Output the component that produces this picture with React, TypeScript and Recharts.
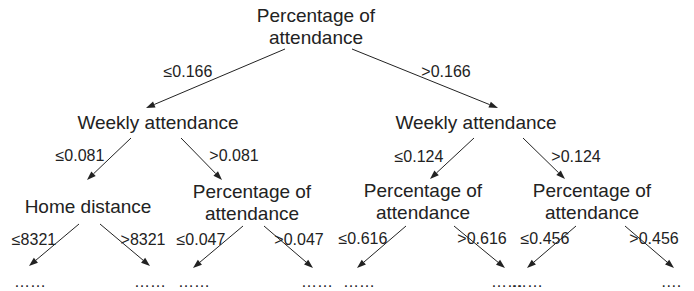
import { ReferenceLine, Scatter, ScatterChart, XAxis, YAxis } from "recharts";

const WIDTH = 694;
const HEIGHT = 291;
const INK = "#222222";

type TextPoint = { x: number; y: number; lines: string[] };
type Edge = { from: [number, number]; to: [number, number] };

// tree nodes (x = centre, y = baseline of first line)
const nodes: TextPoint[] = [
  { x: 316, y: 22, lines: ["Percentage of", "attendance"] },
  { x: 158, y: 129, lines: ["Weekly attendance"] },
  { x: 476, y: 129, lines: ["Weekly attendance"] },
  { x: 88, y: 213, lines: ["Home distance"] },
  { x: 252, y: 198, lines: ["Percentage of", "attendance"] },
  { x: 423, y: 197, lines: ["Percentage of", "attendance"] },
  { x: 592, y: 197, lines: ["Percentage of", "attendance"] },
];

// split conditions written along the branches
const splitLabels: TextPoint[] = [
  { x: 188, y: 77, lines: ["≤0.166"] },
  { x: 446, y: 77, lines: [">0.166"] },
  { x: 80, y: 161, lines: ["≤0.081"] },
  { x: 234, y: 161, lines: [">0.081"] },
  { x: 419, y: 162, lines: ["≤0.124"] },
  { x: 576, y: 162, lines: [">0.124"] },
  { x: 34, y: 245, lines: ["≤8321"] },
  { x: 143, y: 245, lines: [">8321"] },
  { x: 201, y: 245, lines: ["≤0.047"] },
  { x: 299, y: 245, lines: [">0.047"] },
  { x: 363, y: 244, lines: ["≤0.616"] },
  { x: 482, y: 244, lines: [">0.616"] },
  { x: 545, y: 244, lines: ["≤0.456"] },
  { x: 654, y: 244, lines: [">0.456"] },
];

// truncated subtrees
const leaves: TextPoint[] = [
  { x: 30, y: 287, lines: ["……"] },
  { x: 150, y: 287, lines: ["……"] },
  { x: 194, y: 287, lines: ["……"] },
  { x: 317, y: 287, lines: ["……"] },
  { x: 359, y: 287, lines: ["……"] },
  { x: 507, y: 287, lines: ["……"] },
  { x: 527, y: 287, lines: ["……"] },
  { x: 671, y: 287, lines: ["…."] },
];

const edges: Edge[] = [
  { from: [285, 49], to: [146, 108] },
  { from: [352, 49], to: [498, 108] },
  { from: [131, 138], to: [87, 180] },
  { from: [181, 138], to: [222, 180] },
  { from: [474, 138], to: [430, 179] },
  { from: [523, 138], to: [565, 179] },
  { from: [79, 224], to: [29, 266] },
  { from: [100, 224], to: [150, 266] },
  { from: [243, 226], to: [193, 268] },
  { from: [264, 226], to: [313, 268] },
  { from: [406, 226], to: [357, 268] },
  { from: [454, 226], to: [505, 268] },
  { from: [576, 226], to: [527, 268] },
  { from: [625, 226], to: [674, 268] },
];

const LINE_HEIGHT = 22;

const makeTextShape = (fontSize: number) => (props: any) => {
  const { cx, cy, payload } = props;
  if (cx == null || cy == null) return null;
  return (
    <text
      x={cx}
      y={cy}
      textAnchor="middle"
      fontFamily="'Liberation Sans', Arial, sans-serif"
      fontSize={fontSize}
      fill={INK}
    >
      {payload.lines.map((line: string, i: number) => (
        <tspan key={i} x={cx} y={cy + i * LINE_HEIGHT}>
          {line}
        </tspan>
      ))}
    </text>
  );
};

const NodeText = makeTextShape(19);
const SmallText = makeTextShape(16);

const ArrowShape = (props: any) => {
  const { x1, y1, x2, y2 } = props;
  if ([x1, y1, x2, y2].some((v) => v == null || Number.isNaN(v))) return null;
  const angle = Math.atan2(y2 - y1, x2 - x1);
  const len = 9;
  const half = 3.2;
  const bx = x2 - len * Math.cos(angle);
  const by = y2 - len * Math.sin(angle);
  const px = -Math.sin(angle) * half;
  const py = Math.cos(angle) * half;
  return (
    <g>
      <line x1={x1} y1={y1} x2={bx} y2={by} stroke={INK} strokeWidth={1} />
      <polygon
        points={`${x2},${y2} ${bx + px},${by + py} ${bx - px},${by - py}`}
        fill={INK}
      />
    </g>
  );
};

const App = () => {
  return (
    <>
      <style>{`body { margin: 0; }`}</style>
      <ScatterChart
        width={WIDTH}
        height={HEIGHT}
        margin={{ top: 0, right: 0, bottom: 0, left: 0 }}
        style={{ background: "#ffffff" }}
      >
        <XAxis type="number" dataKey="x" domain={[0, WIDTH]} hide allowDataOverflow />
        <YAxis
          type="number"
          dataKey="y"
          domain={[0, HEIGHT]}
          reversed
          hide
          allowDataOverflow
        />
        {edges.map((e, i) => (
          <ReferenceLine
            key={i}
            segment={[
              { x: e.from[0], y: e.from[1] },
              { x: e.to[0], y: e.to[1] },
            ]}
            shape={ArrowShape}
            ifOverflow="visible"
          />
        ))}
        <Scatter data={nodes} shape={NodeText} isAnimationActive={false} />
        <Scatter data={splitLabels} shape={SmallText} isAnimationActive={false} />
        <Scatter data={leaves} shape={SmallText} isAnimationActive={false} />
      </ScatterChart>
    </>
  );
};

export default App;
